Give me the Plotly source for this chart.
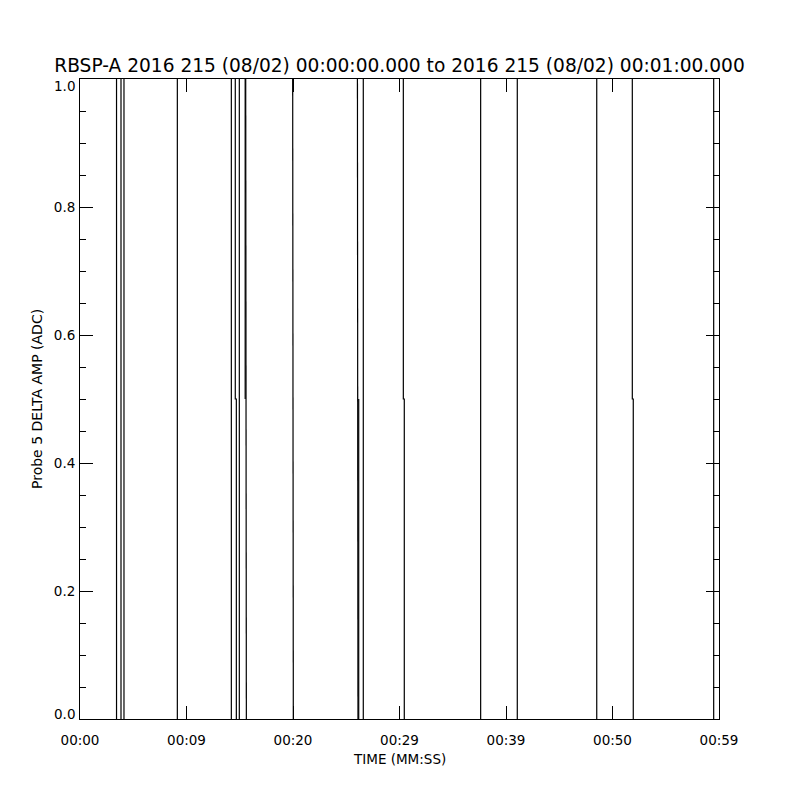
import plotly.graph_objects as go

# ---- data (seconds after 00:00:00) ----
spike_top_s  = [3.43, 3.85, 4.13, 9.14, 14.21, 14.58, 14.96, 15.51, 15.56, 19.97, 26.05, 26.17, 26.60, 30.36, 37.62, 41.06, 48.52, 51.86, 59.50]
spike_base_s = [3.43, 3.85, 4.13, 9.14, 14.21, 14.68, 14.96, 15.51, 15.62, 20.03, 26.10, 26.17, 26.60, 30.45, 37.62, 41.06, 48.52, 51.95, 59.50]
spike_hi     = [1.0, 1.0, 1.0, 1.0, 1.0, 1.0, 1.0, 1.0, 1.0, 1.0, 1.0, 0.5, 1.0, 1.0, 1.0, 1.0, 1.0, 1.0, 1.0]
spike_lo     = [0.0, 0.0, 0.0, 0.0, 0.0, 0.0, 0.0, 0.5, 0.0, 0.0, 0.0, 0.0, 0.0, 0.0, 0.0, 0.0, 0.0, 0.0, 0.0]

x_tick_vals = [0, 10, 20, 30, 40, 50, 60]
x_tick_text = ["00:00", "00:09", "00:20", "00:29", "00:39", "00:50", "00:59"]
y_tick_vals = [0.0, 0.2, 0.4, 0.6, 0.8, 1.0]
y_tick_text = ["0.0", "0.2", "0.4", "0.6", "0.8", "1.0"]

title_text = "RBSP-A 2016 215 (08/02) 00:00:00.000 to 2016 215 (08/02) 00:01:00.000"
x_title = "TIME (MM:SS)"
y_title = "Probe 5 DELTA AMP (ADC)"

# build line path: each spike is a segment; kinks at the midpoint
xs, ys = [], []
for tt, tb, hi, lo in zip(spike_top_s, spike_base_s, spike_hi, spike_lo):
    if hi == 1.0 and lo == 0.0:
        xs += [tt, tt, tb, tb, None]
        ys += [hi, 0.5, 0.5, lo, None]
    else:
        xs += [tt, tb, None]
        ys += [hi, lo, None]

FONT = "DejaVu Sans"
OFF = 8  # page body margin offset
TICKFONT = dict(family=FONT, size=13.5, color="black")

# inner labels via the axis; the end labels sit nudged inside the frame (as in the reference)
axis_text = [t if 0 < v < 1 else "" for v, t in zip(y_tick_vals, y_tick_text)]
edge_annots = []
for v, t in zip(y_tick_vals, y_tick_text):
    if v in (0.0, 1.0):
        edge_annots.append(dict(text=t, xref="paper", yref="y", x=0, y=v,
                                xanchor="right", yanchor="middle", xshift=-3,
                                yshift=-7 if v == 1.0 else 5,
                                showarrow=False, font=TICKFONT))

fig = go.Figure()
fig.add_trace(go.Scatter(x=xs, y=ys, mode="lines",
                         line=dict(color="black", width=1.2),
                         hoverinfo="skip", showlegend=False, cliponaxis=True))

fig.update_layout(
    width=800, height=800,
    paper_bgcolor="white", plot_bgcolor="white",
    margin=dict(l=80 - OFF, r=81 + OFF, t=79 - OFF, b=81 + OFF),
    font=dict(family=FONT, color="black", size=13),
    title=dict(text=title_text, x=0.5, xanchor="center", xref="paper",
               y=1 - (65 - OFF) / 800, yref="container", yanchor="middle",
               font=dict(family=FONT, size=18.6, color="black")),
    xaxis=dict(range=[0, 60], tickmode="array", tickvals=x_tick_vals, ticktext=x_tick_text,
               ticks="inside", ticklen=13, tickwidth=1, tickcolor="black",
               showline=True, linecolor="black", linewidth=1, mirror="allticks",
               showgrid=False, zeroline=False, ticklabelstandoff=9,
               tickfont=TICKFONT),
    yaxis=dict(range=[0, 1], tickmode="array", tickvals=y_tick_vals, ticktext=axis_text,
               ticks="inside", ticklen=13, tickwidth=1, tickcolor="black",
               minor=dict(dtick=0.05, ticks="inside", ticklen=6, tickcolor="black", tickwidth=1, showgrid=False),
               showline=True, linecolor="black", linewidth=1, mirror="allticks",
               showgrid=False, zeroline=False, ticklabelstandoff=1,
               tickfont=TICKFONT),
    annotations=[
        dict(text=x_title, xref="paper", yref="paper", x=0.5, y=-40 / 640,
             xanchor="center", yanchor="middle", showarrow=False,
             font=dict(family=FONT, size=13.5, color="black")),
        dict(text=y_title, xref="paper", yref="paper", x=(37 - 80) / 639, y=0.5,
             xanchor="center", yanchor="middle", showarrow=False, textangle=-90,
             font=dict(family=FONT, size=14, color="black")),
    ] + edge_annots,
)

fig.write_html("out.html")
